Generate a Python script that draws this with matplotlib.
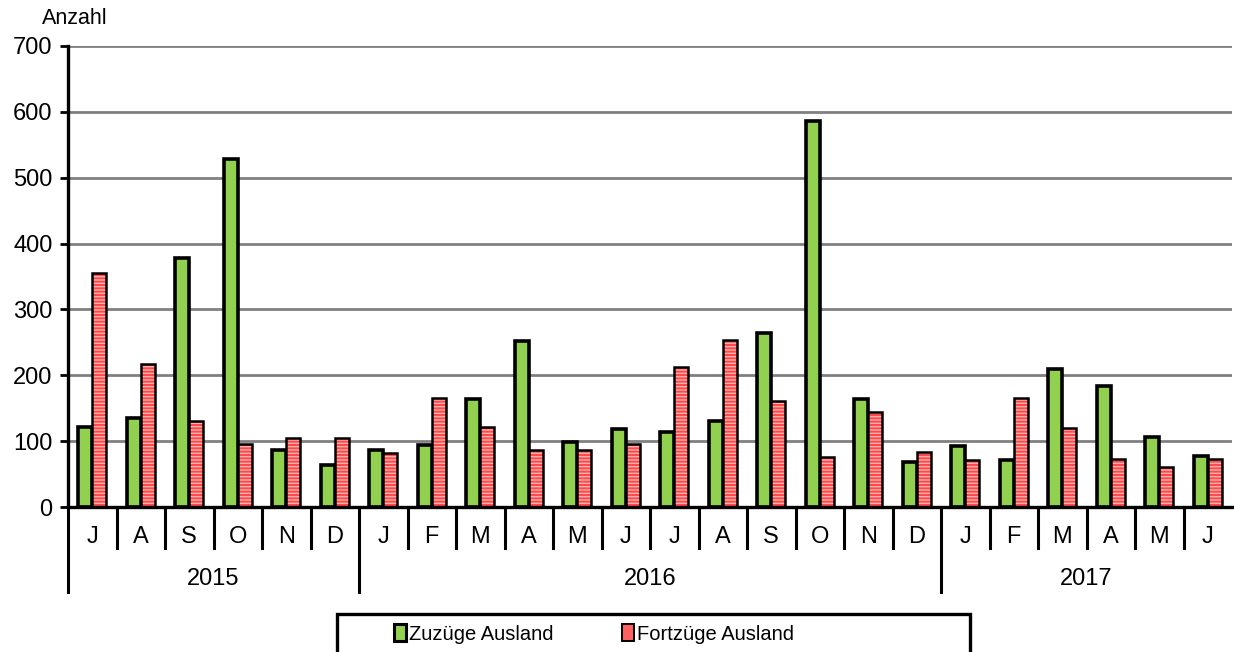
import numpy as np
import matplotlib.pyplot as plt
from matplotlib.patches import Patch, Rectangle

plt.rcParams['font.family'] = ['Liberation Sans', 'DejaVu Sans']
plt.rcParams['hatch.linewidth'] = 1.4

# data
months = ["J", "A", "S", "O", "N", "D",
          "J", "F", "M", "A", "M", "J", "J", "A", "S", "O", "N", "D",
          "J", "F", "M", "A", "M", "J"]
years = ["2015", "2016", "2017"]
year_counts = [6, 12, 6]
zuzuege = [121, 135, 378, 529, 87, 64,
           86, 94, 164, 252, 98, 118, 114, 130, 264, 586, 164, 69,
           93, 72, 210, 183, 106, 77]
fortzuege = [355, 217, 130, 95, 105, 105,
             82, 166, 122, 86, 86, 96, 212, 254, 161, 76, 144, 83,
             72, 166, 120, 73, 61, 73]

green = "#92d050"
red_bg = "#ffb0b0"
red_line = "#ff4848"

fig = plt.figure(figsize=(12.34, 6.52), dpi=100)
ax = fig.add_axes([68 / 1234, 145 / 652, 1164 / 1234, 461 / 652])

x = np.arange(len(months))
w = 0.29
ax.bar(x - w / 2, zuzuege, w, color=green, edgecolor="black", linewidth=2.6, zorder=3)
ax.bar(x + w / 2, fortzuege, w, color=red_bg, edgecolor=red_line, hatch="-----",
       linewidth=0, zorder=3)
ax.bar(x + w / 2, fortzuege, w, color="none", edgecolor="black", linewidth=1.8, zorder=4)

ax.set_xlim(-0.5, len(months) - 0.5)
ax.set_ylim(0, 700)
ax.set_yticks(range(0, 701, 100))
ax.tick_params(axis="y", labelsize=17, length=6, width=2, direction="out", pad=5)
ax.yaxis.grid(True, color="#808080", linewidth=2)
ax.set_axisbelow(True)
for s in ["top", "right"]:
    ax.spines[s].set_visible(False)
ax.spines["left"].set_linewidth(2.4)
ax.spines["bottom"].set_linewidth(2.4)
ax.spines["bottom"].set_zorder(5)
ax.set_xticks([])

# multi-level category axis
trans = ax.get_xaxis_transform()
h = 461
year_bounds = np.cumsum([0] + year_counts) - 0.5
for b in np.arange(len(months) + 1) - 0.5:
    if b in year_bounds[:-1]:
        ax.plot([b, b], [0, -85 / h], color="black", lw=2.2, transform=trans, clip_on=False)
    elif b < len(months) - 0.5:
        ax.plot([b, b], [0, -41 / h], color="black", lw=2.2, transform=trans, clip_on=False)
for i, m in enumerate(months):
    ax.text(i, -30 / h, m, ha="center", va="center", fontsize=17, transform=trans)
start = 0
for yr, n in zip(years, year_counts):
    ax.text(start + n / 2 - 0.5, -72 / h, yr, ha="center", va="center", fontsize=17,
            transform=trans)
    start += n

fig.text(42 / 1234, 1 - 19 / 652, "Anzahl", fontsize=15.5, ha="left", va="center")

# legend box
fig.patches.append(Rectangle((337 / 1234, -0.05), 633 / 1234, 0.05 + 38 / 652,
                             transform=fig.transFigure, facecolor="white",
                             edgecolor="black", linewidth=2.4))
handles = [Patch(facecolor=green, edgecolor="black", linewidth=2.2),
           Patch(facecolor="#ff6060", edgecolor="black", linewidth=1.4)]
fig.legend(handles, ["Zuzüge Ausland", "Fortzüge Ausland"], loc="center",
           bbox_to_anchor=(594 / 1234, 1 - 634 / 652), ncol=2, frameon=False,
           fontsize=14.5, handlelength=0.6, handleheight=0.9, handletextpad=0.15,
           columnspacing=3.4)

fig.savefig("out.png", dpi=100)
